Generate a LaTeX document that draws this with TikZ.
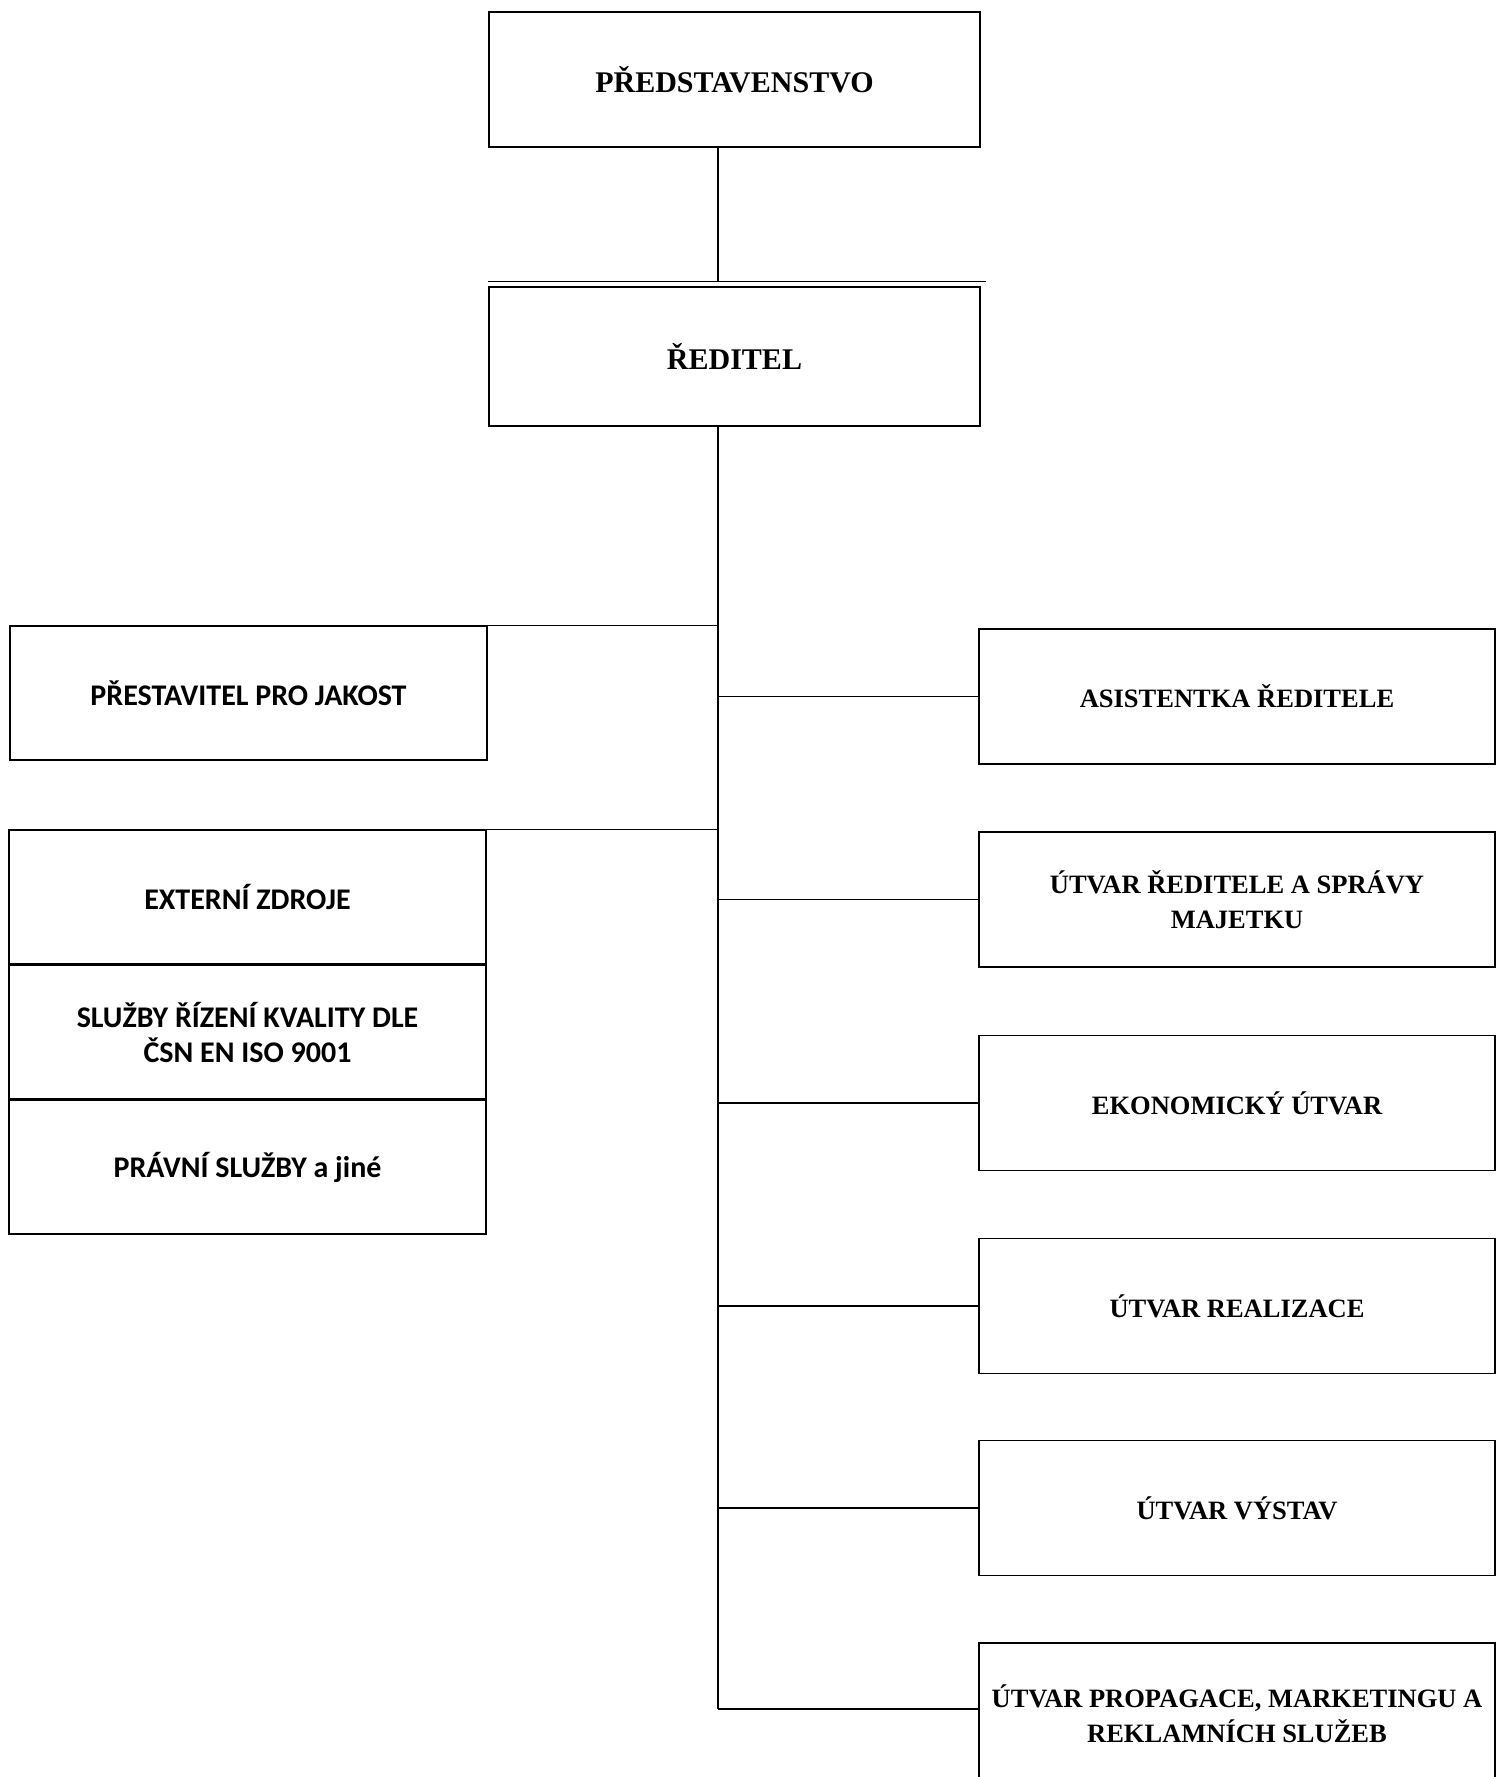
\documentclass[tikz,border=0pt]{standalone}
\usepackage{fontspec}
\setmainfont{Liberation Serif}
\newfontfamily\carlito{Carlito}
\begin{document}
\begin{tikzpicture}[x=1pt,y=-1pt,
  box/.style={draw, line width=1.3pt, inner sep=0pt, align=center},
  topbox/.style={box, minimum width=491pt, minimum height=135pt, font=\fontsize{30}{36}\selectfont\bfseries},
  rbox/.style={box, minimum width=516pt, minimum height=135pt, font=\fontsize{26.5}{35}\selectfont\bfseries},
  lbox/.style={box, minimum width=477pt, minimum height=134pt, font=\carlito\fontsize{30}{35}\selectfont\bfseries},
  conn/.style={line width=1.3pt}]
\useasboundingbox (0,0) rectangle (1497,1777);
\clip (0,0) rectangle (1497,1777);
% top boxes
\node[topbox] (pred) at (734.5,79.5) {PŘEDSTAVENSTVO};
\node[topbox, minimum height=139pt] (red) at (734.5,356.5) {ŘEDITEL};
\coordinate (dl) at ([yshift=5pt]red.north west);
\coordinate (dr) at ([xshift=5pt,yshift=5pt]red.north east);
\draw[conn] (dl) -- (dr);
\coordinate (t0) at (718,147);
\coordinate (t2) at (718,426);
\coordinate (tend) at (718,1709);
\draw[conn] (t0) -- (t0 |- dl);
\draw[conn] (t2) -- (tend);
% left boxes
\node[lbox] (q) at (248.5,693) {PŘESTAVITEL PRO JAKOST};
\node[lbox] (ext) at (247.5,897) {EXTERNÍ ZDROJE};
\node[lbox] (sk) at (247.5,1032) {SLUŽBY ŘÍZENÍ KVALITY DLE\\ČSN EN ISO 9001};
\node[lbox] (pr) at (247.5,1167) {PRÁVNÍ SLUŽBY a jiné};
\draw[conn] (tend |- q.north east) -- (q.north east);
\draw[conn] (tend |- ext.north east) -- (ext.north east);
% right boxes
\node[rbox] (a1) at (1237,696.5) {ASISTENTKA ŘEDITELE};
\node[rbox] (a2) at (1237,899.5) {ÚTVAR ŘEDITELE A SPRÁVY\\MAJETKU};
\node[rbox] (a3) at (1237,1103) {EKONOMICKÝ ÚTVAR};
\node[rbox] (a4) at (1237,1306) {ÚTVAR REALIZACE};
\node[rbox] (a5) at (1237,1508) {ÚTVAR VÝSTAV};
\node[rbox, minimum height=141pt] (a6) at (1237,1713.5) {ÚTVAR PROPAGACE, MARKETINGU A\\REKLAMNÍCH SLUŽEB};
\foreach \n in {a1,a2,a3,a4,a5}{
  \draw[conn] (tend |- \n.west) -- (\n.west);
}
\draw[conn] (tend) -- (tend -| a6.west);
\end{tikzpicture}
\end{document}
